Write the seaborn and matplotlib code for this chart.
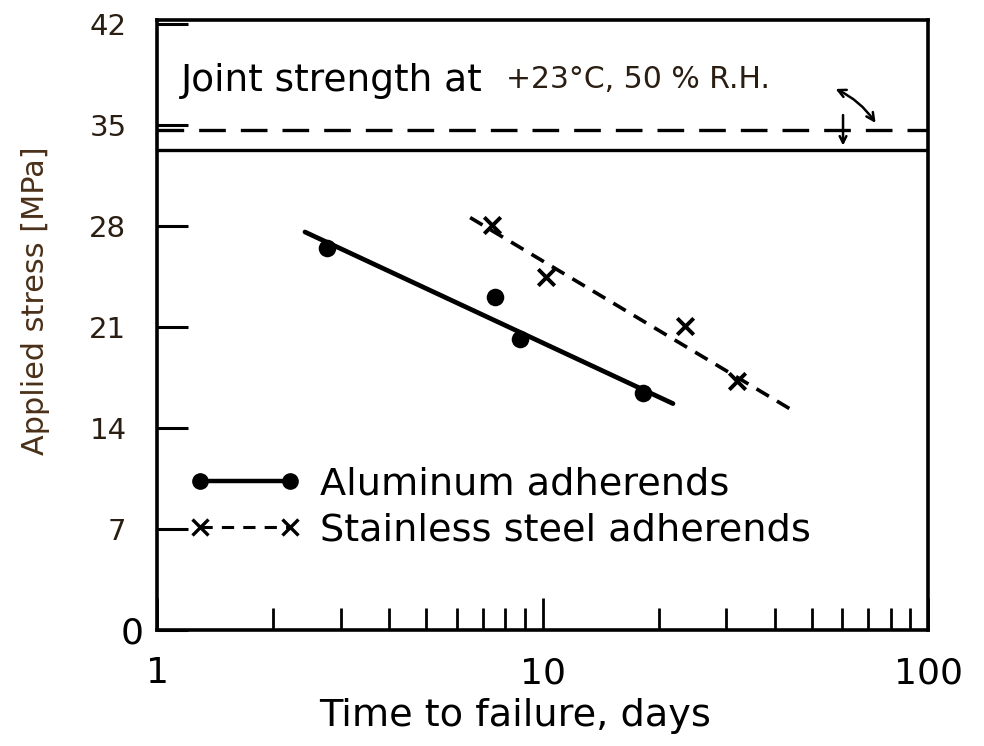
import matplotlib
matplotlib.use("Agg")
import matplotlib.pyplot as plt
import matplotlib.transforms as mtransforms
from matplotlib.lines import Line2D
import seaborn as sns
import pandas as pd

# ---- data ----
al_days = [2.76, 7.53, 8.74, 18.2]
al_stress = [26.5, 23.1, 20.2, 16.4]
ss_days = [7.40, 10.2, 23.4, 32.0]
ss_stress = [28.1, 24.5, 21.1, 17.3]
al_fit_days = [2.42, 21.8]
al_fit_stress = [27.6, 15.7]
ss_fit_days = [6.49, 44.7]
ss_fit_stress = [28.6, 15.2]
joint_strength_solid = 33.3
joint_strength_dashed = 34.7
y_ticks = [0, 7, 14, 21, 28, 35, 42]
x_ticks = [1, 10, 100]
x_tick_labels = ["1", "10", "100"]
legend_labels = ["Aluminum adherends", "Stainless steel adherends"]

sns.set_style("ticks")
plt.rcParams["font.family"] = ["DejaVu Sans"]
plt.rcParams["text.color"] = "black"
plt.rcParams["axes.labelcolor"] = "black"
plt.rcParams["xtick.color"] = "black"
plt.rcParams["ytick.color"] = "black"

fig = plt.figure(figsize=(9.84, 7.46), dpi=100)
ax = fig.add_axes([157 / 984, 1 - 630 / 746, 771 / 984, 610 / 746])

al = pd.DataFrame({"days": al_days, "stress": al_stress})
ss = pd.DataFrame({"days": ss_days, "stress": ss_stress})
alf = pd.DataFrame({"days": al_fit_days, "stress": al_fit_stress})
ssf = pd.DataFrame({"days": ss_fit_days, "stress": ss_fit_stress})

sns.lineplot(data=alf, x="days", y="stress", ax=ax, color="black", lw=3.4, sort=False)
sns.lineplot(data=ssf, x="days", y="stress", ax=ax, color="black", lw=2.6, sort=False,
             linestyle=(0, (4, 2.6)))
sns.scatterplot(data=al, x="days", y="stress", ax=ax, color="black", marker="o", s=160,
                edgecolor="black", linewidth=0, zorder=5)
sns.scatterplot(data=ss, x="days", y="stress", ax=ax, color="black", marker="x", s=140,
                linewidth=2.8, zorder=5)

ax.axhline(joint_strength_solid, color="black", lw=2.4)
ax.axhline(joint_strength_dashed, color="black", lw=2.4, linestyle=(0, (8, 4.5)))

ax.set_xscale("log")
ax.set_xlim(1, 100)
ax.set_ylim(0, 42.3)

ax.set_xticks(x_ticks)
ax.set_xticklabels(x_tick_labels)
ax.set_yticks(y_ticks)
ax.set_yticklabels([str(v) for v in y_ticks])

ax.tick_params(axis="x", which="major", direction="in", length=23, width=2, labelsize=26,
               pad=19)
ax.tick_params(axis="x", which="minor", direction="in", length=16, width=2)
ax.tick_params(axis="y", which="major", direction="in", length=22, width=2.2, labelsize=21,
               pad=22, labelcolor="#2a1e12")
zero_tick = ax.yaxis.get_major_ticks()[0]
zero_tick.label1.set_fontsize(26)
zero_tick.label1.set_color("black")
zero_tick.label1.set_transform(zero_tick.label1.get_transform()
                               + mtransforms.ScaledTranslation(0.17, 0, fig.dpi_scale_trans))

for s in ax.spines.values():
    s.set_linewidth(2.6)
    s.set_color("black")

ax.set_xlabel("Time to failure, days", fontsize=27.5)
ax.xaxis.set_label_coords(0.464, -0.112)
ax.set_ylabel("Applied stress [MPa]", fontsize=21.8, color="#4a3018")
ax.yaxis.set_label_coords(-0.139, 0.54)

ax.text(1.15, 37.35, "Joint strength at", fontsize=27, va="baseline", ha="left")
ax.text(8.04, 37.6, "+23°C, 50 % R.H.", fontsize=21.5, va="baseline", ha="left",
        color="#2a1e12")

ax.annotate("", xy=(56.7, 37.6), xytext=(73.8, 35.0),
            arrowprops=dict(arrowstyle="<->", color="black", lw=1.8,
                            connectionstyle="arc3,rad=0.15", mutation_scale=14))
ax.annotate("", xy=(60.2, 33.4), xytext=(60.2, 35.9),
            arrowprops=dict(arrowstyle="->", color="black", lw=1.8, mutation_scale=12))

handles = [
    Line2D([], [], color="black", lw=3.2, marker="o", markersize=11),
    Line2D([], [], color="black", lw=2.2, linestyle=(0, (4, 3)), marker="x", markersize=11,
           markeredgewidth=2.4),
]
ax.legend(handles, legend_labels, loc="upper left", bbox_to_anchor=(0.041, 0.268),
          frameon=False, numpoints=2, fontsize=27.5, handlelength=2.96, handletextpad=0.48,
          labelspacing=0.25, borderpad=0, borderaxespad=0)

fig.savefig("out.png", dpi=100)
